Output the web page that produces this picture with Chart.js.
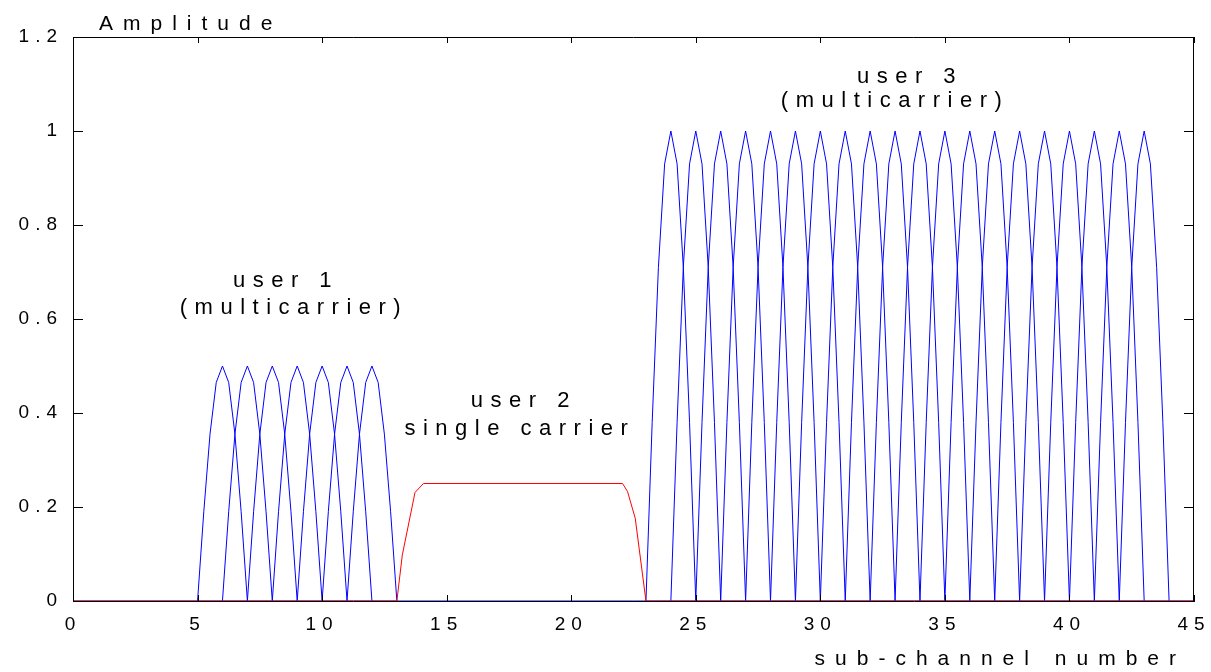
<!DOCTYPE html>
<html>
<head>
<meta charset="utf-8">
<script src="https://cdn.jsdelivr.net/npm/chart.js@4.4.1/dist/chart.umd.min.js"></script>
<style>
  html, body { margin: 0; padding: 0; background: #fff; }
  #wrap { width: 1211px; height: 672px; position: relative; }
</style>
</head>
<body>
<div id="wrap"><canvas id="chart"></canvas></div>
<script>
// Tick labels
const xTickLabels = ['0', '5', '10', '15', '20', '25', '30', '35', '40', '45'];
const yTickLabels = ['0', '0.2', '0.4', '0.6', '0.8', '1', '1.2'];

// One sub-carrier pulse (offset from centre -> relative height)
const pulseOffsets = [-1, -0.75, -0.5, -0.25, 0, 0.25, 0.5, 0.75, 1];
const pulseShape = [0, 0.38, 0.71, 0.93, 1, 0.93, 0.71, 0.38, 0];

// user 1 : multicarrier, amplitude 0.5
const user1Centers = [6, 7, 8, 9, 10, 11, 12];
const user1Amp = 0.5;

// user 3 : multicarrier, amplitude 1
const user3Centers = [24, 25, 26, 27, 28, 29, 30, 31, 32, 33, 34, 35, 36, 37, 38, 39, 40, 41, 42, 43];
const user3Amp = 1;

// user 2 : single carrier (red)
const user2X = [0, 13, 13.22, 13.73, 14.07, 22.06, 22.26, 22.57, 23, 45];
const user2Y = [0, 0, 0.098, 0.231, 0.25, 0.25, 0.233, 0.176, 0, 0];

// blue zero line
const baseX = [0, 45];
const baseY = [0, 0];

// Texts
const yTitle = 'Amplitude';
const xTitle = 'sub-channel number';
const noteTexts = ['user 1', '(multicarrier)', 'user 2', 'single carrier', 'user 3', '(multicarrier)'];
const noteAnchors = [[8.39, 0.668], [8.71, 0.611], [17.94, 0.413], [17.78, 0.353], [33.44, 1.102], [32.84, 1.051]];

const FONT = '"Liberation Sans", Arial, sans-serif';
const BLUE = '#0000ff';
const RED = '#ff0000';

function toPoints(xs, ys) {
    return xs.map((x, i) => ({ x, y: ys[i] }));
}

function pulseDataset(centre, amp) {
    return {
        data: pulseOffsets.map((o, i) => ({ x: centre + o, y: pulseShape[i] * amp })),
        borderColor: BLUE,
        borderWidth: 1,
        pointRadius: 0,
        tension: 0,
    };
}

const datasets = [
    { data: toPoints(user2X, user2Y), borderColor: RED, borderWidth: 1, pointRadius: 0, tension: 0 },
    { data: toPoints(baseX, baseY), borderColor: BLUE, borderWidth: 1, pointRadius: 0, tension: 0 },
    ...user1Centers.map(c => pulseDataset(c, user1Amp)),
    ...user3Centers.map(c => pulseDataset(c, user3Amp)),
];

// frame, inward ticks and free texts
const framePlugin = {
    id: 'framePlugin',
    beforeDraw(chart) {
        chart.ctx.letterSpacing = '6px';
    },
    afterDraw(chart) {
        const { ctx, chartArea: a, scales: { x, y } } = chart;
        ctx.save();
        ctx.strokeStyle = '#000';
        ctx.lineWidth = 1;
        ctx.beginPath();
        ctx.moveTo(a.left, a.top + 0.5); ctx.lineTo(a.right, a.top + 0.5);
        ctx.moveTo(a.right - 0.5, a.top); ctx.lineTo(a.right - 0.5, a.bottom);
        x.ticks.forEach(t => {
            const px = Math.round(x.getPixelForValue(t.value)) + 0.5;
            ctx.moveTo(px, a.bottom); ctx.lineTo(px, a.bottom - 6);
            ctx.moveTo(px, a.top); ctx.lineTo(px, a.top + 6);
        });
        y.ticks.forEach(t => {
            const py = Math.round(y.getPixelForValue(t.value)) + 0.5;
            ctx.moveTo(a.left, py); ctx.lineTo(a.left + 10, py);
            ctx.moveTo(a.right, py); ctx.lineTo(a.right - 10, py);
        });
        ctx.stroke();

        ctx.fillStyle = '#000';
        ctx.textBaseline = 'alphabetic';

        // axis titles
        ctx.font = `21px ${FONT}`;
        ctx.letterSpacing = '10px';
        ctx.textAlign = 'left';
        ctx.fillText(yTitle, a.left + 26, a.top - 7);
        ctx.textAlign = 'right';
        ctx.fillText(xTitle, a.right - 8, a.bottom + 64);

        // annotations
        ctx.font = `22px ${FONT}`;
        ctx.letterSpacing = '7.5px';
        ctx.textAlign = 'center';
        noteTexts.forEach((txt, i) => {
            const [vx, vy] = noteAnchors[i];
            ctx.fillText(txt, x.getPixelForValue(vx) + 4, y.getPixelForValue(vy));
        });
        ctx.restore();
    },
};

new Chart(document.getElementById('chart'), {
    type: 'line',
    data: { datasets },
    options: {
        responsive: true,
        maintainAspectRatio: false,
        animation: false,
        parsing: true,
        layout: { padding: { left: 0, right: 17, top: 37, bottom: 0 } },
        plugins: { legend: { display: false }, tooltip: { enabled: false }, title: { display: false } },
        scales: {
            x: {
                type: 'linear',
                min: 0,
                max: 45,
                grid: { display: false, drawTicks: false },
                border: { display: true, color: '#000', width: 1 },
                ticks: {
                    stepSize: 5,
                    padding: 12,
                    color: '#000',
                    maxRotation: 0,
                    autoSkip: false,
                    font: { family: FONT, size: 19 },
                    callback: (v, i) => xTickLabels[i],
                },
                afterFit: s => { s.height = 71; s.paddingLeft = 0; s.paddingRight = 0; },
            },
            y: {
                type: 'linear',
                min: 0,
                max: 1.2,
                grid: { display: false, drawTicks: false },
                border: { display: true, color: '#000', width: 1 },
                ticks: {
                    stepSize: 0.2,
                    padding: 10,
                    color: '#000',
                    autoSkip: false,
                    font: { family: FONT, size: 19 },
                    callback: (v, i) => yTickLabels[i],
                },
                afterFit: s => { s.width = 73; s.paddingTop = 0; s.paddingBottom = 0; },
            },
        },
    },
    plugins: [framePlugin],
});
</script>
</body>
</html>
